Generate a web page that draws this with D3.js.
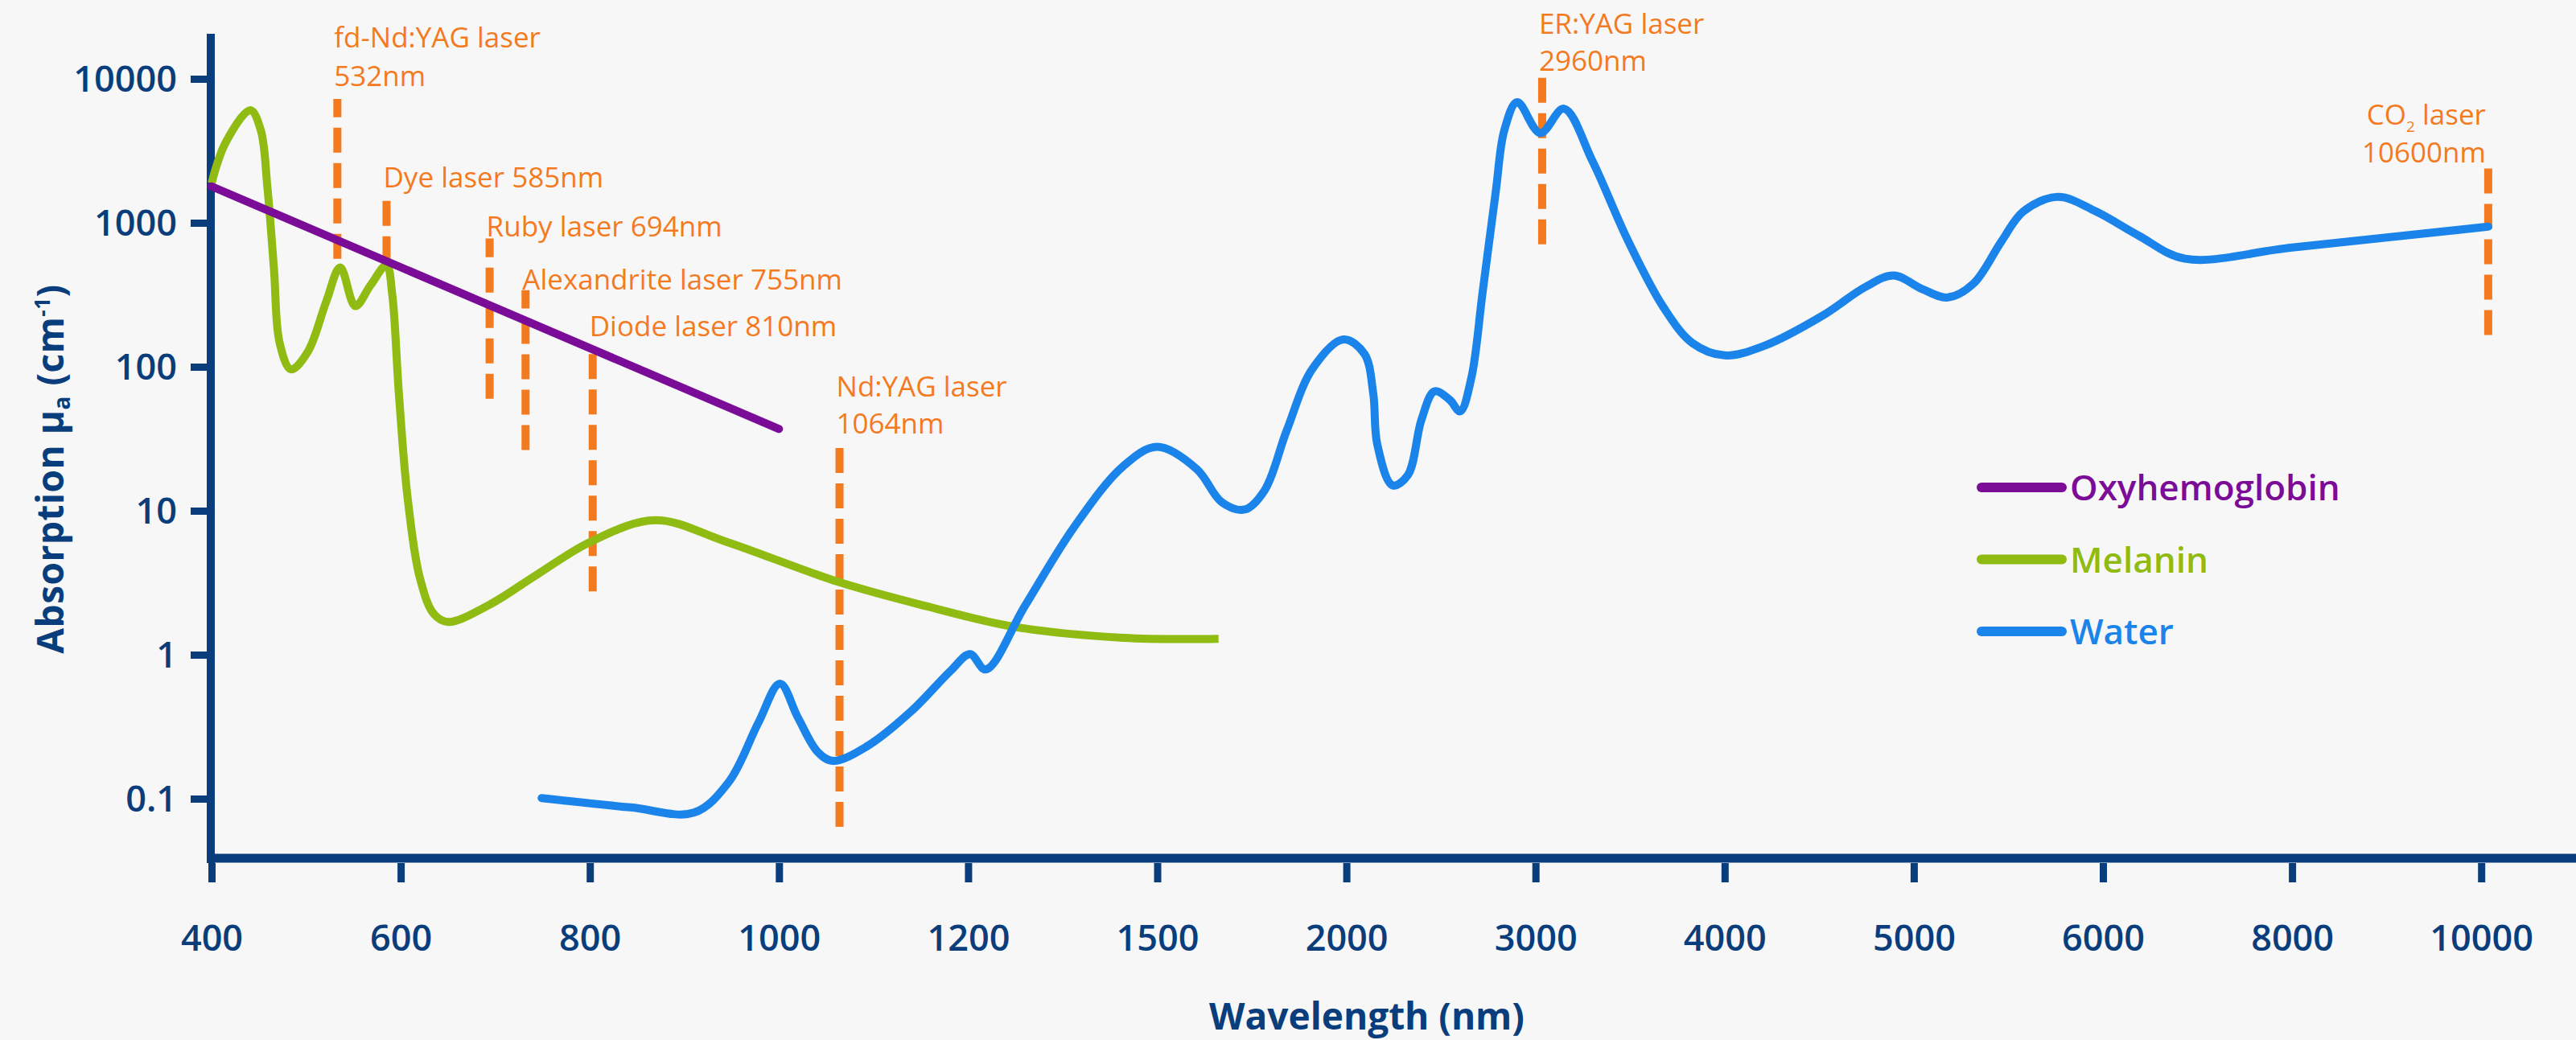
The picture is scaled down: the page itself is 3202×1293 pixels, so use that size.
<!DOCTYPE html>
<html><head><meta charset="utf-8">
<script src="https://cdn.jsdelivr.net/npm/d3@7"></script>
<style>html,body{margin:0;padding:0;background:#f7f7f7;} svg{display:block;}</style>
</head><body><svg id="chart" width="3202" height="1293"></svg>
<script>
// ---------------- data ----------------
const xTicks = [400, 600, 800, 1000, 1200, 1500, 2000, 3000, 4000, 5000, 6000, 8000, 10000];
const yTicks = [0.1, 1, 10, 100, 1000, 10000];
const yTickLabels = ["0.1", "1", "10", "100", "1000", "10000"];

const seriesNames = ["Oxyhemoglobin", "Melanin", "Water"];

const oxyWavelength = [400, 1000];
const oxyValues = [1790, 37];

const melaninWavelength = [400, 415, 441, 452, 459, 466, 472, 484, 502, 521, 536, 552, 568, 585, 591, 598, 607, 620, 635, 650, 693, 744, 801, 869, 944, 1063, 1155, 1274, 1446, 1662];
const melaninValues = [1884, 3620, 6050, 4400, 1770, 475, 146, 96, 128, 281, 489, 264, 368, 507, 319, 66, 12.8, 3.47, 1.92, 1.69, 2.21, 3.6, 6.1, 8.6, 6.1, 3.2, 2.18, 1.56, 1.31, 1.29];

const waterWavelength = [749, 843, 910, 947, 978, 1001, 1020, 1041, 1057, 1093, 1140, 1182, 1203, 1228, 1290, 1368, 1446, 1500, 1605, 1670, 1731, 1784, 1842, 1910, 1992, 2095, 2142, 2163, 2244, 2325, 2397, 2466, 2546, 2601, 2660, 2720, 2790, 2835, 2903, 3025, 3150, 3300, 3490, 3678, 3830, 4000, 4210, 4516, 4745, 4894, 5047, 5179, 5315, 5464, 5579, 5762, 5962, 6374, 6868, 8000, 10074];
const waterValues = [0.101, 0.087, 0.080, 0.131, 0.335, 0.63, 0.366, 0.211, 0.183, 0.231, 0.406, 0.78, 1.01, 0.79, 2.18, 7.7, 20.4, 27.8, 19.4, 11.5, 10.2, 13.9, 36, 96.6, 155, 123, 65, 29, 15, 17.7, 43, 67.6, 59, 49, 83, 328, 1660, 4400, 6890, 4200, 6200, 2700, 746, 257, 146, 120, 140, 226, 359, 430, 345, 303, 378, 746, 1200, 1513, 1200, 817, 563, 673, 940];

const laserLabels = [
  ["fd-Nd:YAG laser", "532nm"],
  ["Dye laser 585nm"],
  ["Ruby laser 694nm"],
  ["Alexandrite laser 755nm"],
  ["Diode laser 810nm"],
  ["Nd:YAG laser", "1064nm"],
  ["ER:YAG laser", "2960nm"],
  ["CO|2| laser", "10600nm"]
];
const laserWavelength = [533, 585, 694, 732, 803, 1064, 3035, 10074];
const laserTop = [7240, 1493, 777, 341, 128, 31.2, 10390, 2466];
const laserBottom = [562, 541, 60, 26.4, 2.75, 0.0638, 708, 166];

// ---------------- layout / style ----------------
const NAVY = "#0a3d7b", ORANGE = "#f47a1f";
const COLORS = ["#7a0c98", "#8fbb12", "#1a84ea"];
const X0 = 263, XSTEP = 235.1;
const AXIS_Y = 1067, AXIS_X = 262;
const laserLabelBaselines = [[59, 107], [233], [294], [360], [418], [493, 539], [42, 88], [155, 202]];
const laserLabelAnchor = ["start", "start", "start", "start", "start", "start", "start", "end"];

const svg = d3.select("#chart");
svg.append("rect").attr("width", 3202).attr("height", 1293).attr("fill", "#f7f7f7");

const x = d3.scaleLinear().domain(xTicks).range(xTicks.map((d, i) => X0 + i * XSTEP));
const y = d3.scaleLog().domain([0.1, 10000]).range([993, 98]);

const FONT = "'Open Sans', 'Noto Sans', sans-serif";

// ---------------- axes ----------------
const xAxis = svg.append("g").attr("transform", `translate(0,${AXIS_Y + 6})`)
  .call(d3.axisBottom(x).tickValues(xTicks).tickFormat(d3.format("d")).tickSize(24).tickSizeOuter(0));
xAxis.select(".domain").remove();
xAxis.selectAll(".tick line").attr("stroke", NAVY).attr("stroke-width", 9);
xAxis.selectAll(".tick text").attr("fill", NAVY).attr("y", 109).attr("dy", null)
  .style("font-family", FONT).style("font-size", "45px").style("font-weight", 600);

const yAxis = svg.append("g").attr("transform", `translate(${AXIS_X - 5},0)`)
  .call(d3.axisLeft(y).tickValues(yTicks).tickFormat((d, i) => yTickLabels[i]).tickSize(20).tickSizeOuter(0));
yAxis.select(".domain").remove();
yAxis.selectAll(".tick line").attr("stroke", NAVY).attr("stroke-width", 9);
yAxis.selectAll(".tick text").attr("fill", NAVY).attr("x", -37).attr("dy", "0.35em")
  .style("font-family", FONT).style("font-size", "45px").style("font-weight", 600);

svg.append("line").attr("x1", AXIS_X).attr("x2", AXIS_X).attr("y1", 42).attr("y2", AXIS_Y + 6)
  .attr("stroke", NAVY).attr("stroke-width", 10);
svg.append("line").attr("x1", AXIS_X - 5).attr("x2", 3202).attr("y1", AXIS_Y).attr("y2", AXIS_Y)
  .attr("stroke", NAVY).attr("stroke-width", 11);

svg.append("text").attr("x", 1699).attr("y", 1280).attr("text-anchor", "middle")
  .attr("fill", NAVY).style("font-family", FONT).style("font-size", "46px").style("font-weight", 700)
  .text("Wavelength (nm)");

const yt = svg.append("text").attr("transform", "translate(79,583) rotate(-90)").attr("text-anchor", "middle")
  .attr("fill", NAVY).style("font-family", FONT).style("font-size", "46px").style("font-weight", 700)
  .style("letter-spacing", "0.5px");
yt.append("tspan").text("Absorption μ");
yt.append("tspan").attr("dy", 8).style("font-size", "28px").text("a");
yt.append("tspan").attr("dy", -8).text(" (cm");
yt.append("tspan").attr("dy", -17).style("font-size", "26px").text("-1");
yt.append("tspan").attr("dy", 17).text(")");

// ---------------- series ----------------
const lineSmooth = d3.line().x(d => x(d[0])).y(d => y(d[1])).curve(d3.curveCatmullRom.alpha(0.5));
const series = [
  d3.zip(oxyWavelength, oxyValues),
  d3.zip(melaninWavelength, melaninValues),
  d3.zip(waterWavelength, waterValues)
];

laserWavelength.forEach((w, i) => {
  svg.append("line")
    .attr("x1", x(w)).attr("x2", x(w))
    .attr("y1", y(laserBottom[i])).attr("y2", y(laserTop[i]))
    .attr("stroke", ORANGE).attr("stroke-width", 10).attr("stroke-dasharray", "31 13");
});

[1, 2, 0].forEach(k => {
  svg.append("path").attr("d", lineSmooth(series[k])).attr("fill", "none")
    .attr("stroke", COLORS[k]).attr("stroke-width", 10)
    .attr("stroke-linecap", k === 1 ? "butt" : "round").attr("stroke-linejoin", "round");
});

laserLabels.forEach((lines, i) => {
  const anchor = laserLabelAnchor[i];
  const lx = anchor === "end" ? x(laserWavelength[i]) - 3 : x(laserWavelength[i]) - 4;
  lines.forEach((txt, j) => {
    const t = svg.append("text").attr("x", lx).attr("y", laserLabelBaselines[i][j])
      .attr("text-anchor", anchor).attr("fill", ORANGE)
      .style("font-family", FONT).style("font-size", "35px").style("font-weight", 400);
    if (txt.includes("|")) {
      const parts = txt.split("|");
      t.append("tspan").text(parts[0]);
      t.append("tspan").attr("dy", 9).style("font-size", "19px").text(parts[1]);
      t.append("tspan").attr("dy", -9).text(parts[2]);
    } else {
      t.text(txt);
    }
  });
});

// ---------------- legend ----------------
const legend = svg.append("g");
seriesNames.forEach((name, i) => {
  const ly = 606 + i * 89.5;
  legend.append("line").attr("x1", 2463).attr("x2", 2563).attr("y1", ly).attr("y2", ly)
    .attr("stroke", COLORS[i]).attr("stroke-width", 12).attr("stroke-linecap", "round");
  legend.append("text").attr("x", 2573).attr("y", ly + 16).attr("fill", COLORS[i])
    .style("font-family", FONT).style("font-size", "44px").style("font-weight", 600).text(name);
});
</script>
</body></html>
